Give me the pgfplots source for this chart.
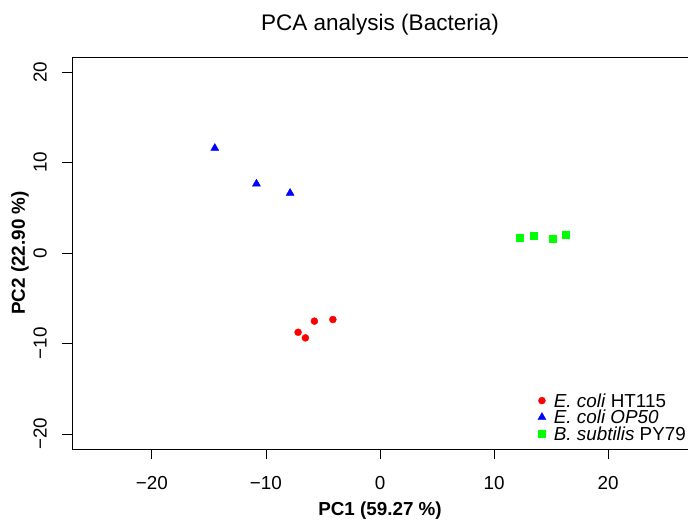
\documentclass[border=0pt]{standalone}
\usepackage{fontspec}
\setmainfont{Liberation Sans}
\usepackage{pgfplots}
\pgfplotsset{compat=1.18}
\begin{document}
\begin{tikzpicture}
\begin{axis}[
  scale only axis, width=616bp, height=392bp,
  xmin=-27, xmax=27, ymin=-21.66, ymax=21.66,
  xtick={-20,-10,0,10,20}, xticklabels={−20,−10,0,10,20},
  ytick={-20,-10,0,10,20}, yticklabels={−20,−10,0,10,20},
  tick pos=left, tick align=outside, major tick length=10bp,
  tick style={black, line width=0.8bp},
  axis line style={line width=1bp},
  tick label style={font=\fontsize{18.9}{21}\selectfont, inner sep=0pt},
  xticklabel style={anchor=north},
  xticklabel shift=17bp,
  yticklabel style={rotate=90, anchor=south},
  yticklabel shift=15bp,
  title={PCA analysis (Bacteria)},
  title style={font=\fontsize{22.6}{25}\selectfont, at={(axis description cs:0.5,1.0663)}, anchor=center},
  xlabel={\textbf{PC1 (59.27 \%)}},
  xlabel style={font=\fontsize{18.9}{21}\selectfont, at={(axis description cs:0.5,-0.156)}, anchor=center},
  ylabel={\textbf{PC2 (22.90 \%)}},
  ylabel style={font=\fontsize{18.9}{21}\selectfont, at={(axis description cs:-0.0844,0.5)}, anchor=center},
  legend cell align=left,
  legend style={draw=none, fill=none, at={(axis description cs:1,0)}, anchor=south east,
    inner sep=0pt, xshift=-2bp, yshift=8bp, font=\fontsize{18.9}{21}\selectfont,
    row sep=2.6bp, column sep=8bp,
    nodes={inner sep=0pt, text height=13.6bp, text depth=0.4bp}},
]
\addplot[only marks, mark=*, draw=red, fill=red, mark size=3.5bp] coordinates {
  (-7.18,-8.76) (-6.54,-9.38) (-5.75,-7.53) (-4.13,-7.35)};
\addlegendentry{\textit{E. coli} HT115}
\addplot[only marks, mark=triangle*, draw=blue, fill=blue, mark size=4.6bp] coordinates {
  (-14.48,11.59) (-10.83,7.65) (-7.88,6.62)};
\addlegendentry{\textit{E. coli OP50}}
\addplot[only marks, mark=square*, draw=green, fill=green, mark size=3.5bp] coordinates {
  (12.27,1.66) (13.44,1.91) (15.13,1.55) (16.25,2.05)};
\addlegendentry{\textit{B. subtilis} PY79}
\end{axis}
\pgfresetboundingbox
\path ([xshift=-72bp,yshift=-72bp]current axis.south west) rectangle ([yshift=57bp]current axis.north east);
\end{tikzpicture}
\end{document}
